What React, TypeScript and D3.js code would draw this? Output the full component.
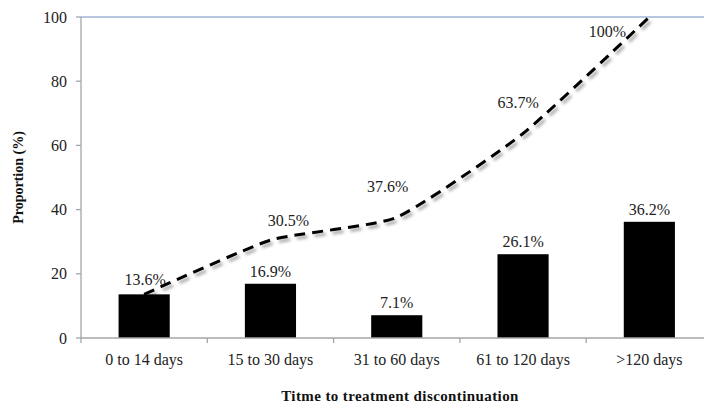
import React from "react";
import * as d3 from "d3";

// Categories and values
const categories = ["0 to 14 days", "15 to 30 days", "31 to 60 days", "61 to 120 days", ">120 days"];
const barValues = [13.6, 16.9, 7.1, 26.1, 36.2];
const cumulativeValues = [13.6, 30.5, 37.6, 63.7, 100];
const yTicks = [0, 20, 40, 60, 80, 100];

// Hand-placed offsets for the cumulative line labels (dx, dy from the point)
const lineLabelNudge: [number, number][] = [
  [1, -9],
  [18, -14],
  [-9, -25],
  [-5, -26],
  [-42, 20],
];

const W = 704;
const H = 406;
const plot = { left: 81, right: 712.5, top: 17, bottom: 338 };
const serif = "Liberation Serif, Times New Roman, serif";

export default function App() {
  const x = d3
    .scaleBand<string>()
    .domain(categories)
    .range([plot.left, plot.right])
    .paddingInner(0)
    .paddingOuter(0);
  const y = d3.scaleLinear().domain([0, 100]).range([plot.bottom, plot.top]);
  const band = x.bandwidth();
  const barW = band * 0.405;
  const cx = (c: string) => (x(c) as number) + band / 2;

  const line = d3
    .line<number>()
    .x((_, i) => cx(categories[i]))
    .y((v) => y(v))
    .curve(d3.curveCardinal.tension(0.5));

  const boundaries = d3.range(categories.length).map((i) => plot.left + i * band);
  const txt = { fontFamily: serif };

  return (
    <svg
      width={W}
      height={H}
      style={{ position: "absolute", left: 0, top: 0, background: "#fff", fontFamily: serif }}
    >
      <defs>
        <filter id="lineShadow" x="-10%" y="-10%" width="120%" height="130%">
          <feDropShadow dx="2.5" dy="3" stdDeviation="1.6" floodColor="#000" floodOpacity="0.35" />
        </filter>
      </defs>

      {/* top boundary line */}
      <line x1={plot.left} x2={W} y1={y(100)} y2={y(100)} stroke="#6f8fc0" strokeWidth={1.2} />

      {/* y axis */}
      <line x1={plot.left} x2={plot.left} y1={plot.top} y2={plot.bottom} stroke="#a6a6a6" strokeWidth={1.3} />
      {yTicks.map((t) => (
        <g key={t}>
          <line x1={plot.left - 5} x2={plot.left} y1={y(t)} y2={y(t)} stroke="#a6a6a6" strokeWidth={1.3} />
          <text x={67} y={y(t)} dy="0.35em" textAnchor="end" fontSize={16} fill="#222" style={txt}>
            {t}
          </text>
        </g>
      ))}

      {/* bars */}
      {categories.map((c, i) => (
        <rect
          key={c}
          x={cx(c) - barW / 2}
          y={y(barValues[i])}
          width={barW}
          height={y(0) - y(barValues[i])}
          fill="#000"
        />
      ))}

      {/* x axis */}
      <line x1={plot.left} x2={W} y1={plot.bottom} y2={plot.bottom} stroke="#a6a6a6" strokeWidth={1.3} />
      {boundaries.map((b, i) => (
        <line key={i} x1={b} x2={b} y1={plot.bottom} y2={plot.bottom + 5} stroke="#a6a6a6" strokeWidth={1.3} />
      ))}
      {categories.map((c) => (
        <text key={c} x={cx(c)} y={365} textAnchor="middle" fontSize={16} fill="#222" style={txt}>
          {c}
        </text>
      ))}

      {/* bar value labels (the first bar shares its label with the line's start) */}
      {categories.map((c, i) =>
        i === 0 ? null : (
          <text key={c} x={cx(c)} y={y(barValues[i]) - 7} textAnchor="middle" fontSize={16} fill="#222" style={txt}>
            {barValues[i]}%
          </text>
        )
      )}

      {/* cumulative dashed line */}
      <path
        d={line(cumulativeValues) || ""}
        fill="none"
        stroke="#000"
        strokeWidth={3}
        strokeDasharray="11 7"
        filter="url(#lineShadow)"
      />
      {cumulativeValues.map((v, i) => (
        <text
          key={i}
          x={cx(categories[i]) + lineLabelNudge[i][0]}
          y={y(v) + lineLabelNudge[i][1]}
          textAnchor="middle"
          fontSize={16}
          fill="#222"
          style={txt}
        >
          {v}%
        </text>
      ))}

      {/* axis titles */}
      <text
        transform={`translate(23, ${(plot.top + plot.bottom) / 2}) rotate(-90)`}
        textAnchor="middle"
        fontSize={14}
        fontWeight="bold"
        fill="#111"
        style={txt}
      >
        Proportion (%)
      </text>
      <text x={400} y={401} textAnchor="middle" fontSize={15} fontWeight="bold" fill="#111" letterSpacing={0.4} style={txt}>
        Titme to treatment discontinuation
      </text>
    </svg>
  );
}
